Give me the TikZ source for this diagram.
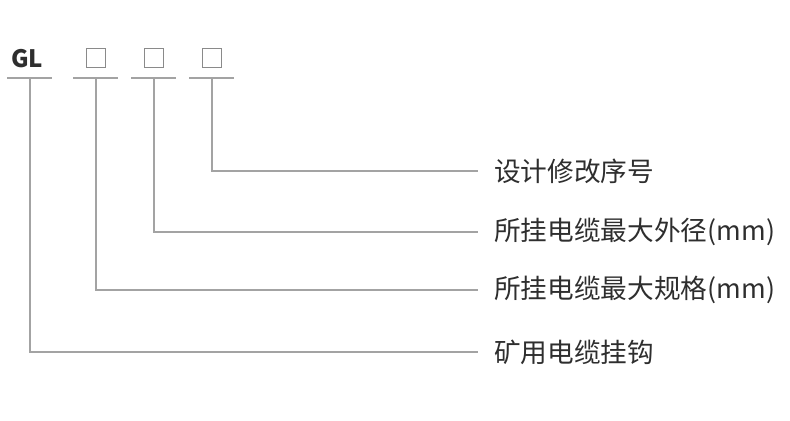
\documentclass[tikz,border=0pt]{standalone}
\usepackage{fontspec}
\newfontfamily\cjk{Noto Sans CJK SC}
\usetikzlibrary{positioning}
\definecolor{ink}{HTML}{2E2E2E}
\definecolor{rule}{HTML}{A3A3A3}
\definecolor{boxgray}{HTML}{8A8A8A}

\begin{document}
\begin{tikzpicture}[x=0.75pt, y=-0.75pt,
  lead/.style={draw=rule, line width=1.1pt},
  slot/.style={draw=boxgray, line width=1pt, minimum size=14.5pt, inner sep=0pt},
  tag/.style={anchor=west, inner sep=0pt, text=ink, font=\cjk\fontsize{20}{23}\selectfont}]
  \useasboundingbox (0,0) rectangle (790,421);
  \node[text=ink, font=\cjk\bfseries\fontsize{18}{20}\selectfont] (gl) at (27,59) {GL};
  \foreach \i/\x in {1/96, 2/154, 3/212}
    \node[slot] (b\i) at (\x,58) {};
  % underlines
  \coordinate (base) at (0,78);
  \foreach \a/\b in {7/52, 73/118, 131/176, 189/234}
    \draw[lead] (\a,78) -- (\b,78);
  \coordinate (u0) at (30,78);
  \coordinate (u1) at (b1 |- base);
  \coordinate (u2) at (b2 |- base);
  \coordinate (u3) at (b3 |- base);
  % labels
  \coordinate (e3) at (478,171);
  \coordinate (e2) at (478,232);
  \coordinate (e1) at (478,290);
  \coordinate (e0) at (478,352);
  \node[tag, right=12pt of e3] (l3) {设计修改序号};
  \node[tag, right=12pt of e2] (l2) {所挂电缆最大外径(mm)};
  \node[tag, right=12pt of e1] (l1) {所挂电缆最大规格(mm)};
  \node[tag, right=12pt of e0] (l0) {矿用电缆挂钩};
  \foreach \i in {0,...,3}
    \draw[lead] (u\i) |- (e\i);
\end{tikzpicture}
\end{document}
